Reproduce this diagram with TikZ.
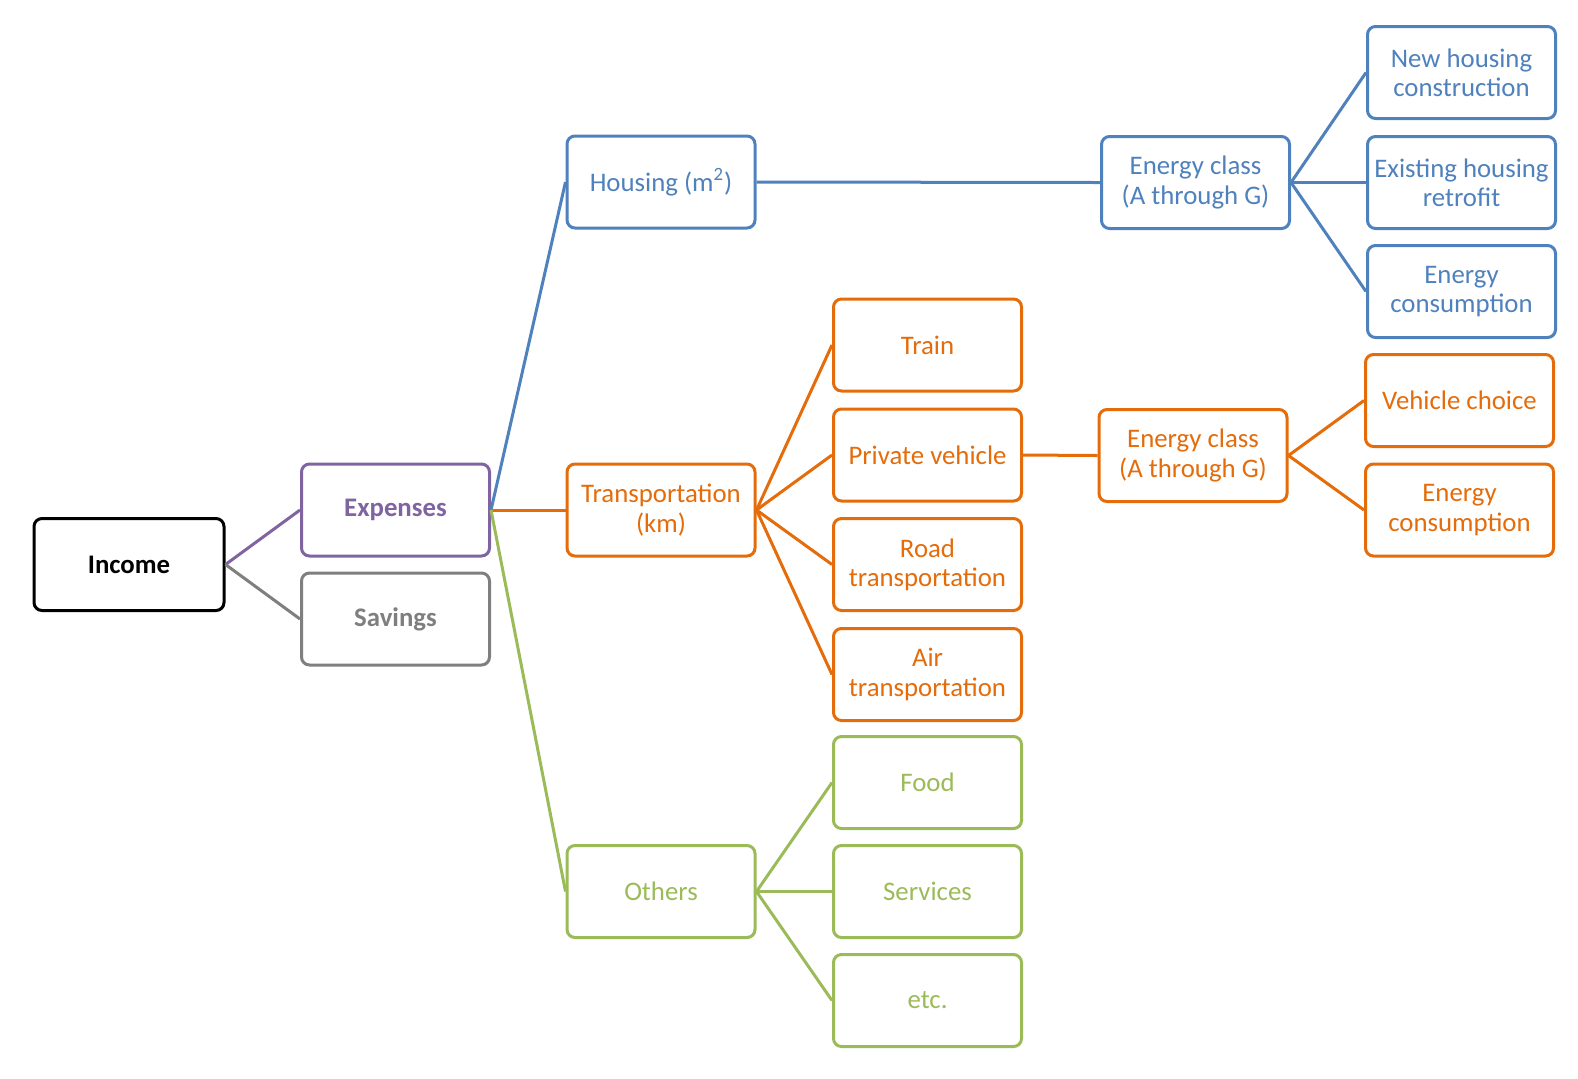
\documentclass[tikz,border=0pt]{standalone}
\usepackage{fontspec}
\setmainfont{Carlito}
\definecolor{cblue}{HTML}{4F81BD}
\definecolor{corange}{HTML}{E46C0A}
\definecolor{cgreen}{HTML}{9BBB59}
\definecolor{cpurple}{HTML}{8064A2}
\definecolor{cgray}{HTML}{7F7F7F}
\tikzset{
  box/.style={draw, line width=1.5pt, rounded corners=4pt, minimum width=94pt, minimum height=46pt,
    align=center, inner sep=1pt, font=\fontsize{13.4}{14.6}\selectfont, fill=white},
  bluebox/.style={box, draw=cblue, text=cblue},
  orangebox/.style={box, draw=corange, text=corange},
  greenbox/.style={box, draw=cgreen, text=cgreen},
  link/.style={line width=1.5pt},
}
\begin{document}
\begin{tikzpicture}[x=0.5pt, y=-0.5pt]
\useasboundingbox (0,0) rectangle (1578,1078);
% nodes
\node[box, minimum width=95pt, draw=black, text=black, font=\fontsize{13.4}{14.6}\selectfont\bfseries] (income) at (129,564.5) {Income};
\node[box, draw=cpurple, text=cpurple, font=\fontsize{13.4}{14.6}\selectfont\bfseries] (expenses) at (395.5,510) {Expenses};
\node[box, draw=cgray, text=cgray, font=\fontsize{13.4}{14.6}\selectfont\bfseries] (savings) at (395.5,619) {Savings};

\node[bluebox] (housing) at (661,182) {Housing (m\textsuperscript{2})};
\node[orangebox] (transport) at (661,510) {Transportation\\(km)};
\node[greenbox] (others) at (661,891.5) {Others};

\node[orangebox] (train) at (927.5,345) {Train};
\node[orangebox] (private) at (927.5,455) {Private vehicle};
\node[orangebox] (road) at (927.5,564.5) {Road\\transportation};
\node[orangebox] (air) at (927.5,674.5) {Air\\transportation};

\node[greenbox] (food) at (927.5,782.5) {Food};
\node[greenbox] (services) at (927.5,891.5) {Services};
\node[greenbox] (etc) at (927.5,1000.5) {etc.};

\node[bluebox] (hclass) at (1195.5,182.5) {Energy class\\(A through G)};
\node[orangebox] (vclass) at (1193,455.5) {Energy class\\(A through G)};

\node[bluebox] (newh) at (1461.5,72.5) {New housing\\construction};
\node[bluebox] (exist) at (1461.5,182.5) {Existing housing\\retrofit};
\node[bluebox] (hcons) at (1461.5,291.5) {Energy\\consumption};
\node[orangebox] (vchoice) at (1459.5,400.5) {Vehicle choice};
\node[orangebox] (vcons) at (1459.5,510) {Energy\\consumption};

% connectors
\draw[link, cpurple] (income.east) -- (expenses.west);
\draw[link, cgray] (income.east) -- (savings.west);
\draw[link, cblue] (expenses.east) -- (housing.west);
\draw[link, corange] (expenses.east) -- (transport.west);
\draw[link, cgreen] (expenses.east) -- (others.west);

\draw[link, cblue] (housing.east) -- (hclass.west);
\draw[link, cblue] (hclass.east) -- (newh.west);
\draw[link, cblue] (hclass.east) -- (exist.west);
\draw[link, cblue] (hclass.east) -- (hcons.west);

\draw[link, corange] (transport.east) -- (train.west);
\draw[link, corange] (transport.east) -- (private.west);
\draw[link, corange] (transport.east) -- (road.west);
\draw[link, corange] (transport.east) -- (air.west);
\draw[link, corange] (private.east) -- (vclass.west);
\draw[link, corange] (vclass.east) -- (vchoice.west);
\draw[link, corange] (vclass.east) -- (vcons.west);

\draw[link, cgreen] (others.east) -- (food.west);
\draw[link, cgreen] (others.east) -- (services.west);
\draw[link, cgreen] (others.east) -- (etc.west);
\end{tikzpicture}
\end{document}
